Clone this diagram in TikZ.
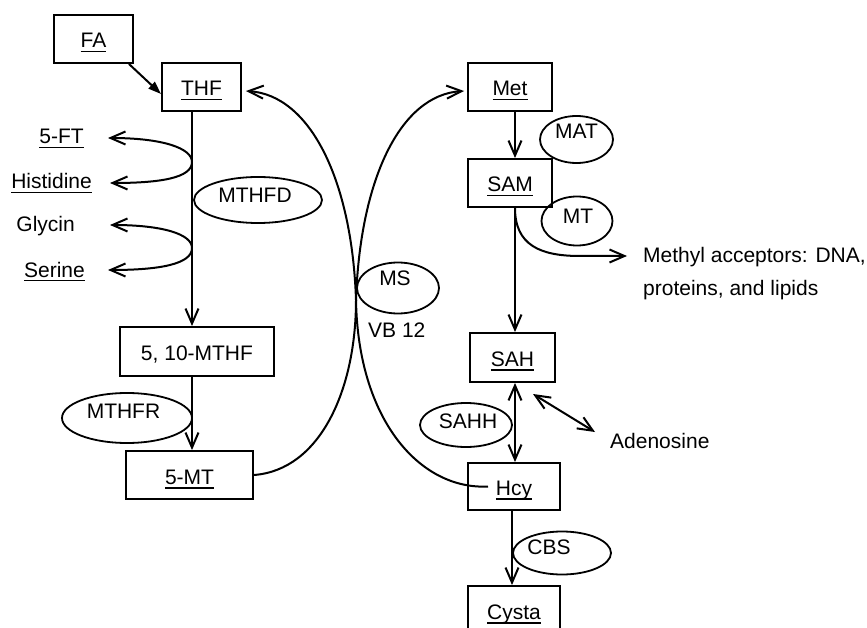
\documentclass[tikz,border=0pt]{standalone}
\usepackage{fontspec}
\setmainfont{Liberation Sans}
\usetikzlibrary{arrows.meta,shapes.geometric,calc}
\newcommand{\myul}[1]{\begingroup\setbox0=\hbox{#1}\leavevmode\rlap{\copy0}\raisebox{-4.5pt}{\rule{\wd0}{1.6pt}}\endgroup}
\begin{document}
\begin{tikzpicture}[x=1pt,y=-1pt,
  every node/.style={font=\fontsize{21}{24}\selectfont, inner sep=0pt},
  box/.style={draw, line width=1.9pt, minimum height=48pt, text height=18pt, text depth=0pt},
  enz/.style={draw, ellipse, line width=1.8pt},
  conn/.style={line width=2pt},
  arr/.style={conn, -{Straight Barb[length=15pt,width=13pt,line width=2pt]}},
  dbl/.style={conn, {Straight Barb[length=15pt,width=13pt,line width=2pt]}-{Straight Barb[length=15pt,width=13pt,line width=2pt]}},
  tri/.style={conn, -{Triangle[length=13pt,width=9pt]}}]
\useasboundingbox (0,0) rectangle (867,628);
\clip (0,0) rectangle (867,628);

% boxes
\node[box, minimum width=79pt] (fa) at (93.5,39) {\myul{FA}};
\node[box, minimum width=79pt] (thf) at (201.5,87) {\myul{THF}};
\node[box, minimum width=154pt, minimum height=49pt] (mthf) at (197,351.5) {5, 10-MTHF};
\node[box, minimum width=127pt] (mt5) at (189.5,475) {\myul{5-MT}};
\node[box, minimum width=84pt] (met) at (510,87) {\myul{Met}};
\node[box, minimum width=84pt] (sam) at (510,183) {\myul{SAM}};
\node[box, minimum width=85pt, minimum height=49pt] (sah) at (512.5,357.5) {\myul{SAH}};
\node[box, minimum width=92pt, minimum height=47pt] (hcy) at (514,486.5) {\myul{Hcy}};
\node[box, minimum width=92pt] (cysta) at (514,610) {\myul{Cysta}};

% enzymes
\node[enz, minimum width=128pt, minimum height=46pt] (mthfd) at (258,200) {};
\node[anchor=base] (mthfdt) at (255,202.5) {MTHFD};
\node[enz, minimum width=130pt, minimum height=50pt] (mthfr) at (127,418) {};
\node[anchor=base] (mthfrt) at (123.5,418.5) {MTHFR};
\node[enz, minimum width=82pt, minimum height=51pt] (ms) at (398,288) {};
\node[anchor=base] (mst) at (395,285.5) {MS};
\node[anchor=base west] (vb) at (368,337) {VB 12};
\node[enz, minimum width=73pt, minimum height=47pt] (mat) at (576.5,139.5) {};
\node[anchor=base] (matt) at (576.5,139) {MAT};
\node[enz, minimum width=71pt, minimum height=49pt] (mt) at (577,221) {};
\node[anchor=base] (mtt) at (578,223.5) {MT};
\node[enz, minimum width=92pt, minimum height=44pt] (sahh) at (466,425) {};
\node[anchor=base] (sahht) at (468,428.5) {SAHH};
\node[enz, minimum width=98pt, minimum height=43pt] (cbs) at (562,553) {};
\node[anchor=base] (cbst) at (549,554.5) {CBS};

% side labels
\node[anchor=base east] (ft) at (84,144) {\myul{5-FT}};
\node[anchor=base east] (his) at (92,189) {\myul{Histidine}};
\node[anchor=base east] (gly) at (75,232) {Glycin};
\node[anchor=base east] (ser) at (85,277) {\myul{Serine}};
\node[anchor=base west] (acc1) at (643,263) {Methyl acceptors: DNA,};
\node[anchor=base west] (acc2) at (643,295) {proteins, and lipids};
\node[anchor=base west] (ade) at (610,448) {Adenosine};

% coordinates
\coordinate (lc) at (192,0);
\coordinate (rc) at (515,0);
\coordinate (k1) at (192,162);
\coordinate (k2) at (192,248);
\coordinate (t1) at (108,138);
\coordinate (t2) at (110,183);
\coordinate (t3) at (110,225);
\coordinate (t4) at (108,270);
\coordinate (xc) at (356,300);
\coordinate (fastart) at ($(fa.south east)+(-5,0)$);
\coordinate (thfin) at ($(thf.west)+(0,7)$);
\coordinate (thftip) at ($(thf.east)+(4,4)$);
\coordinate (mettip) at ($(met.west)+(-3,4)$);
\coordinate (hcyin) at ($(hcy.center)+(-26,0)$);
\coordinate (accmid) at (580,256);
\coordinate (acctip) at (627,256);
\coordinate (ad1) at (533,394);
\coordinate (ad2) at (595,432);

% connectors
\draw[tri] (fastart) -- (thfin);
\draw[arr] (thf.south -| lc) -- (mthf.north -| lc);
\draw[arr] (mthf.south -| lc) -- (mt5.north -| lc);
\draw[arr] (k1) .. controls (192,148) and (162,138) .. (t1);
\draw[arr] (k1) .. controls (192,178) and (160,183) .. (t2);
\draw[arr] (k2) .. controls (192,234) and (162,225) .. (t3);
\draw[arr] (k2) .. controls (192,264) and (160,270) .. (t4);

\draw[arr] (hcyin) .. controls (420,490) and (358,420) .. (xc) .. controls (352,180) and (310,95) .. (thftip);
\draw[arr] (mt5.east) .. controls (320,470) and (356,390) .. (xc) .. controls (360,180) and (400,95) .. (mettip);

\draw[arr] (met.south -| rc) -- (sam.north -| rc);
\draw[arr] (sam.south -| rc) -- (sah.north -| rc);
\draw[arr] (sam.south -| rc) .. controls (515,245) and (540,256) .. (accmid) -- (acctip);
\draw[dbl] (sah.south -| rc) -- (hcy.north -| rc);
\draw[dbl] (ad1) -- (ad2);
\draw[arr] ($(hcy.south)+(-2,0)$) -- ($(cysta.north)+(-2,0)$);
\end{tikzpicture}
\end{document}
